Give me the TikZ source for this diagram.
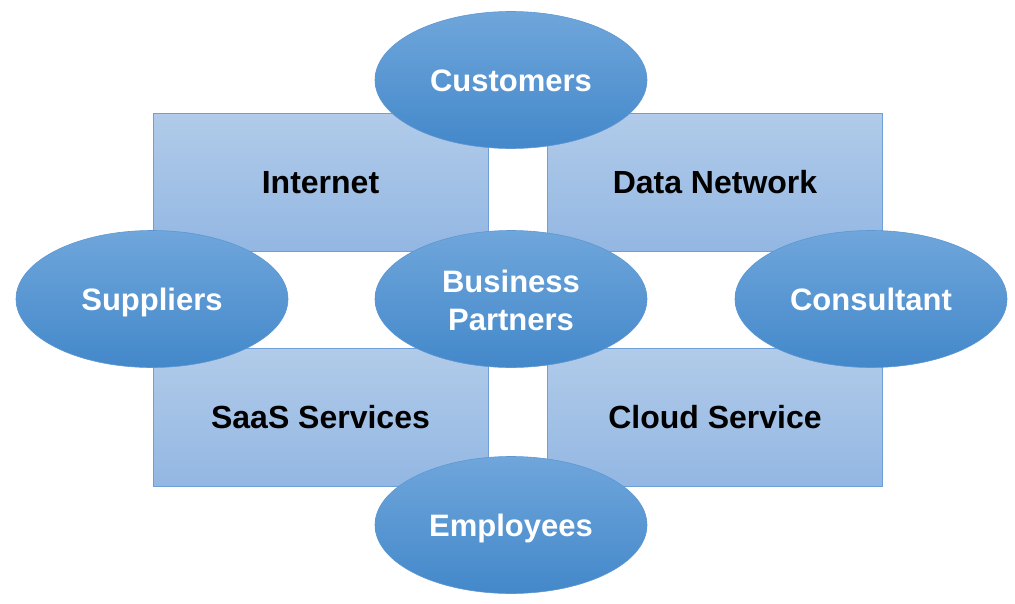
\documentclass[tikz,border=0pt]{standalone}
\usepackage{fontspec}
\setmainfont{Liberation Sans}
\usepackage{tikz}
\usetikzlibrary{shapes.geometric}
\definecolor{boxtop}{HTML}{B1CBE9}
\definecolor{boxbot}{HTML}{93B7E3}
\definecolor{boxline}{HTML}{6E9FD8}
\definecolor{elltop}{HTML}{6FA6DB}
\definecolor{ellbot}{HTML}{4388CA}
\definecolor{ellline}{HTML}{5E97D2}
\tikzset{
  area/.style={rectangle, draw=boxline, line width=0.8pt, top color=boxtop, bottom color=boxbot,
    minimum width=335pt, minimum height=138pt, inner sep=0pt,
    font=\fontsize{32}{38}\selectfont\bfseries, text=black,
    text height=23pt, text depth=0pt},
  party/.style={ellipse, draw=ellline, line width=0.6pt, top color=elltop, bottom color=ellbot,
    minimum width=272pt, minimum height=137pt, inner sep=0pt, align=center,
    font=\fontsize{31}{38}\selectfont\bfseries, text=white,
    text height=22pt, text depth=0pt}
}
\begin{document}
\begin{tikzpicture}[x=1pt,y=-1pt]
  \useasboundingbox (0,0) rectangle (1015,603);
  % the four areas
  \node[area] (internet) at (320.5,182) {Internet};
  \node[area] (datanet) at (715,182) {Data Network};
  \node[area] (saas) at (320.5,417) {SaaS Services};
  \node[area] (cloud) at (715,417) {Cloud Service};
  % the parties around them
  \node[party] (customers) at (511,80) {Customers};
  \node[party] (suppliers) at (152,299) {Suppliers};
  \node[party, text height=63pt] (partners) at (511,299) {Business\\Partners};
  \node[party] (consultant) at (871,299) {Consultant};
  \node[party] (employees) at (511,525) {Employees};
\end{tikzpicture}
\end{document}
